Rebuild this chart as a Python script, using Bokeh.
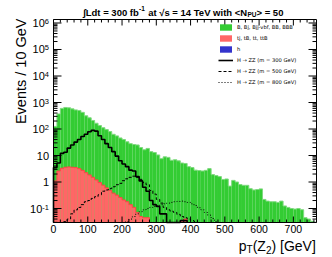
import math
from bokeh.plotting import figure
from bokeh.models import ColumnDataSource, Label, Legend, LegendItem, Range1d
from bokeh.embed import file_html
from bokeh.resources import INLINE

# ---------------- data (Events / 10 GeV) ----------------
bin_edges = [0, 10, 20, 30, 40, 50, 60, 70, 80, 90, 100, 110, 120, 130, 140, 150, 160, 170, 180, 190,
             200, 210, 220, 230, 240, 250, 260, 270, 280, 290, 300, 310, 320, 330, 340, 350, 360, 370, 380, 390,
             400, 410, 420, 430, 440, 450, 460, 470, 480, 490, 500, 510, 520, 530, 540, 550, 560, 570, 580, 590,
             600, 610, 620, 630, 640, 650, 660, 670, 680, 690, 700, 710, 720, 730, 740, 750, 760]

bkg_B = [125, 370, 600, 650, 630, 575, 525, 500, 425, 315,
         265, 210, 165, 135, 112, 95, 80, 63, 55, 46,
         40, 33, 28, 26, 25, 20, 16.5, 18.5, 14, 13,
         10.5, 7.6, 8.9, 8.5, 6.6, 6.9, 6.3, 5.2, 5.0, 3.8,
         3.5, 2.8, 2.7, 2.6, 2.75, 3.2, 1.9, 1.75, 1.6, 1.25,
         1.3, 0.7, 1.15, 1.0, 0.8, 0.75, 0.75, 0.56, 0.5, 0.52,
         0.55, 0.22, 0.19, 0.18, 0.18, 0.17, 0.19, 0.125, 0.11, 0.10,
         0.095, 0.10, 0.09, 0.045, 0.04, 0.033]

bkg_t = [1.1, 2.6, 3.3, 3.6, 3.7, 3.6, 3.5, 3.2, 2.75, 2.25,
         1.85, 1.5, 1.2, 0.95, 0.76, 0.6, 0.48, 0.38, 0.32, 0.26,
         0.21, 0.18, 0.14, 0.11, 0.07, 0.05, 0.045, 0.045, 0, 0,
         0, 0, 0, 0, 0, 0, 0, 0.035, 0.04, 0,
         0, 0, 0, 0, 0, 0, 0, 0, 0, 0,
         0, 0, 0, 0, 0, 0, 0, 0, 0, 0,
         0, 0, 0, 0, 0, 0, 0, 0, 0, 0,
         0, 0, 0, 0, 0, 0]

# h: nothing visible above the lower edge of the plot
bkg_h = [0, 0, 0, 0, 0, 0, 0, 0, 0, 0,
         0, 0, 0, 0, 0, 0, 0, 0, 0, 0,
         0, 0, 0, 0, 0, 0, 0, 0, 0, 0,
         0, 0, 0, 0, 0, 0, 0, 0, 0, 0,
         0, 0, 0, 0, 0, 0, 0, 0, 0, 0,
         0, 0, 0, 0, 0, 0, 0, 0, 0, 0,
         0, 0, 0, 0, 0, 0, 0, 0, 0, 0,
         0, 0, 0, 0, 0, 0]

sig_300 = [3.5, 5.2, 12, 13.2, 19, 25, 32, 40, 52, 63,
           79, 89, 83, 56, 40, 28, 20, 14, 9.5, 6.3,
           4.8, 3.8, 2.8, 2.6, 1.6, 1.1, 0.63, 0.45, 0.2, 0.14,
           0.12, 0.063, 0.063, 0, 0, 0, 0, 0.035, 0.035, 0,
           0, 0, 0, 0, 0, 0, 0, 0, 0, 0,
           0, 0, 0, 0, 0, 0, 0, 0, 0, 0,
           0, 0, 0, 0, 0, 0, 0, 0, 0, 0,
           0, 0, 0, 0, 0, 0]

sig_500 = [0, 0, 0, 0.032, 0.04, 0.063, 0.089, 0.11, 0.14, 0.18,
           0.2, 0.24, 0.28, 0.33, 0.45, 0.5, 0.56, 0.66, 0.79, 0.89,
           1.12, 1.32, 1.5, 1.66, 1.5, 1.26, 0.95, 0.79, 0.48, 0.35,
           0.22, 0.16, 0.11, 0.089, 0.079, 0.071, 0.06, 0.05, 0.045, 0.04,
           0.035, 0.032, 0, 0, 0, 0, 0, 0, 0, 0,
           0, 0, 0, 0, 0, 0, 0, 0, 0, 0,
           0, 0, 0, 0, 0, 0, 0, 0, 0, 0,
           0, 0, 0, 0, 0, 0]

sig_800 = [0, 0, 0, 0, 0, 0, 0, 0, 0, 0,
           0, 0, 0, 0, 0, 0, 0, 0, 0, 0,
           0, 0.032, 0.04, 0.05, 0.063, 0.076, 0.089, 0.1, 0.11, 0.12,
           0.13, 0.14, 0.15, 0.16, 0.17, 0.18, 0.185, 0.19, 0.18, 0.17,
           0.15, 0.13, 0.107, 0.089, 0.071, 0.056, 0.042, 0.032, 0, 0,
           0, 0, 0, 0, 0, 0, 0, 0, 0, 0,
           0, 0, 0, 0, 0, 0, 0, 0, 0, 0,
           0, 0, 0, 0, 0, 0]

x_ticks = [0, 100, 200, 300, 400, 500, 600, 700]
x_tick_labels = ["0", "100", "200", "300", "400", "500", "600", "700"]
y_exponents = [-1, 0, 1, 2, 3, 4, 5, 6]

labels_legend = ["B, Bj, Bjj-vbf, BB, BBB", "tj, tB, tt, ttB", "h",
                 "H \u2192 ZZ (m = 300 GeV)", "H \u2192 ZZ (m = 500 GeV)", "H \u2192 ZZ (m = 800 GeV)"]

# ---------------- layout (pixels) ----------------
W, H = 332, 257
L, R, T, B = 53, 316, 19, 222          # inner plotting box
XMIN, XMAX = 0.0, 767.5
LYMIN, LYMAX = -1.528, 6.132
kx = (R - L) / (XMAX - XMIN)
ky = (B - T) / (LYMAX - LYMIN)
YMIN, YMAX = 10 ** LYMIN, 10 ** LYMAX


def dx(px):
    return XMIN + (px - L) / kx


def dy(py):
    return 10 ** (LYMAX - (py - T) / ky)


FONT = "Liberation Sans"
REG = {' ': 278, '(': 333, ')': 333, '[': 278, ']': 278, '/': 278, '-': 333, '=': 584, '<': 584, '>': 584,
       'G': 778, 'V': 667, 'Z': 611, 'T': 611, 'E': 667, 'L': 556, 'N': 722, 'P': 667, 'U': 722,
       'p': 556, 'e': 556, 'v': 500, 'n': 556, 't': 278, 's': 500, 'f': 278, 'b': 556, 'd': 556,
       'a': 556, 'w': 722, 'i': 222, 'h': 556, '\u222b': 350, '\u221a': 549}
BOLD = {' ': 278, '(': 333, ')': 333, '-': 333, '=': 584, '<': 584, '>': 584, 'L': 611, 'N': 722,
        'P': 667, 'U': 722, 'T': 611, 'V': 667, 'e': 556, 't': 333, 's': 556, 'f': 333, 'b': 611,
        'd': 611, 'a': 556, 'w': 778, 'i': 278, 'h': 611, '\u222b': 350, '\u221a': 549}


def tw(s, size, bold=False):
    t = BOLD if bold else REG
    return sum(t.get(c, 556) for c in s) * size / 1000.0


def quads(counts, keep_all=False):
    idx = [i for i, c in enumerate(counts) if keep_all or c > YMIN]
    return ColumnDataSource(dict(left=[bin_edges[i] for i in idx], right=[bin_edges[i + 1] for i in idx],
                                 top=[max(counts[i], YMIN) for i in idx], bottom=[YMIN] * len(idx)))


def steps(counts):
    idx = [i for i, c in enumerate(counts) if c > 0]
    i0, i1 = idx[0], idx[-1]
    xs, ys = [bin_edges[i0]], [YMIN]
    for i in range(i0, i1 + 1):
        v = max(counts[i], YMIN)
        xs += [bin_edges[i], bin_edges[i + 1]]
        ys += [v, v]
    xs.append(bin_edges[i1 + 1])
    ys.append(YMIN)
    return ColumnDataSource(dict(x=xs, y=ys))


# ---------------- figure ----------------
p = figure(width=W, height=H, title=None,
           x_range=Range1d(dx(0), dx(W)), y_range=Range1d(dy(H), dy(0)),
           y_axis_type="log", x_axis_location=None, y_axis_location=None,
           output_backend="svg", toolbar_location=None, min_border=0)
p.xgrid.visible = False
p.ygrid.visible = False
p.outline_line_color = None
p.background_fill_color = "white"
p.border_fill_color = "white"

r_g = p.quad(left="left", right="right", top="top", bottom="bottom", source=quads(bkg_B),
             fill_color="#33cc33", line_color=None)
p.line("x", "y", source=steps(bkg_B), line_color="#7fd97f", line_width=1)
r_r = p.quad(left="left", right="right", top="top", bottom="bottom", source=quads(bkg_t),
             fill_color="#ff6666", line_color=None)
p.line("x", "y", source=steps(bkg_t), line_color="#ff4444", line_width=1)
r_b = p.quad(left="left", right="right", top="top", bottom="bottom", source=quads(bkg_h, keep_all=True),
             fill_color="#3333cc", line_color=None)

r_300 = p.line("x", "y", source=steps(sig_300), line_color="black", line_width=1.6)
r_500 = p.line("x", "y", source=steps(sig_500), line_color="black", line_width=1, line_dash="3 2")
r_800 = p.line("x", "y", source=steps(sig_800), line_color="black", line_width=1, line_dash="1 2")

# ---------------- frame and ticks ----------------
p.quad(left=[XMIN], right=[XMAX], bottom=[YMIN], top=[YMAX], fill_color=None,
       line_color="black", line_width=1)

x_minor = [v for v in range(0, 768, 20) if v not in x_ticks]
y_major = [10.0 ** e for e in y_exponents]
y_minor = [m * 10.0 ** e for e in range(-2, 7) for m in range(2, 10)
           if LYMIN < math.log10(m * 10.0 ** e) < LYMAX]

sx0, sx1, sy0, sy1 = [], [], [], []


def tick_x(vals, length):
    for v in vals:
        sx0.extend([v, v]); sx1.extend([v, v])
        sy0.extend([YMIN, YMAX]); sy1.extend([dy(B - length), dy(T + length)])


def tick_y(vals, length):
    for v in vals:
        sy0.extend([v, v]); sy1.extend([v, v])
        sx0.extend([XMIN, XMAX]); sx1.extend([dx(L + length), dx(R - length)])


tick_x(x_ticks, 6)
tick_x(x_minor, 3)
tick_y(y_major, 8)
tick_y(y_minor, 4)
p.segment(x0=sx0, y0=sy0, x1=sx1, y1=sy1, line_color="black", line_width=1)


def lab(px, py, text, size, bold=False, align="left", baseline="alphabetic", angle=0.0, font=FONT):
    p.add_layout(Label(x=px, y=H - py, x_units="screen", y_units="screen", text=text, text_font=font,
                       text_font_size=f"{size}px", text_font_style="bold" if bold else "normal",
                       text_align=align, text_baseline=baseline, angle=angle, text_color="black"))


def xpix(v):
    return L + (v - XMIN) * kx


def ypix(v):
    return T + (LYMAX - math.log10(v)) * ky


# x tick labels
for v, s in zip(x_ticks, x_tick_labels):
    lab(xpix(v), B + 2.5, s, 10.5, False, "center", "top")

# y tick labels: 10^n with superscript, plain 1 and 10
YL, YS, ES = 48.5, 11, 7.5
for e in y_exponents:
    yp = ypix(10.0 ** e)
    if e in (0, 1):
        lab(YL, yp, "1" if e == 0 else "10", YS, False, "right", "middle")
    else:
        es = str(e)
        we = tw(es, ES)
        lab(YL - we, yp, "10", YS, False, "right", "middle")
        lab(YL - we, yp - 1.5, es, ES, False, "left", "alphabetic")

# ---------------- legend ----------------
legend = Legend(items=[LegendItem(label=labels_legend[0], renderers=[r_g]),
                       LegendItem(label=labels_legend[1], renderers=[r_r]),
                       LegendItem(label=labels_legend[2], renderers=[r_b]),
                       LegendItem(label=labels_legend[3], renderers=[r_300]),
                       LegendItem(label=labels_legend[4], renderers=[r_500]),
                       LegendItem(label=labels_legend[5], renderers=[r_800])],
                location=(218, 171), orientation="vertical", glyph_width=15, glyph_height=8,
                label_height=8, label_width=10, spacing=3, padding=0, margin=0, label_standoff=4,
                border_line_color=None, background_fill_alpha=0,
                label_text_font="DejaVu Sans", label_text_font_size="5.2px",
                label_text_color="black")
p.add_layout(legend)

# ---------------- title ----------------
TS, SS = 9.5, 6.5
t1 = "\u222bLdt = 300 fb"
t2 = "at \u221as = 14 TeV with <N"
x0 = 138.3
base = 11.5
lab(x0, base, t1, TS, True, "right")
lab(x0 + 0.2, base - 4, "-1", SS, True)
xb = x0 + 0.2 + tw("-1", SS, True) + tw(" ", TS, True) + tw(t2, TS, True)
lab(xb, base, t2, TS, True, "right")
lab(xb + 0.3, base + 2.7, "PU", SS, True)
lab(xb + 0.3 + tw("PU", SS, True), base, "> = 50", TS, True)

# ---------------- axis titles ----------------
lab(20, 18, "Events / 10 GeV", 14.5, False, "right", "middle", math.pi / 2)

XS, XSS = 14, 10
RX, BX = 315.3, 245.5
lab(RX, BX, ") [GeV]", XS, False, "right")
r1 = RX - tw(") [GeV]", XS)
lab(r1, BX + 3.5, "2", XSS, False, "right")
r2 = r1 - tw("2", XSS)
lab(r2, BX, "(Z", XS, False, "right")
r3 = r2 - tw("(Z", XS)
lab(r3, BX + 3.5, "T", XSS, False, "right")
r4 = r3 - tw("T", XSS)
lab(r4, BX, "p", XS, False, "right")

open("out.html", "w").write(file_html(p, INLINE))
